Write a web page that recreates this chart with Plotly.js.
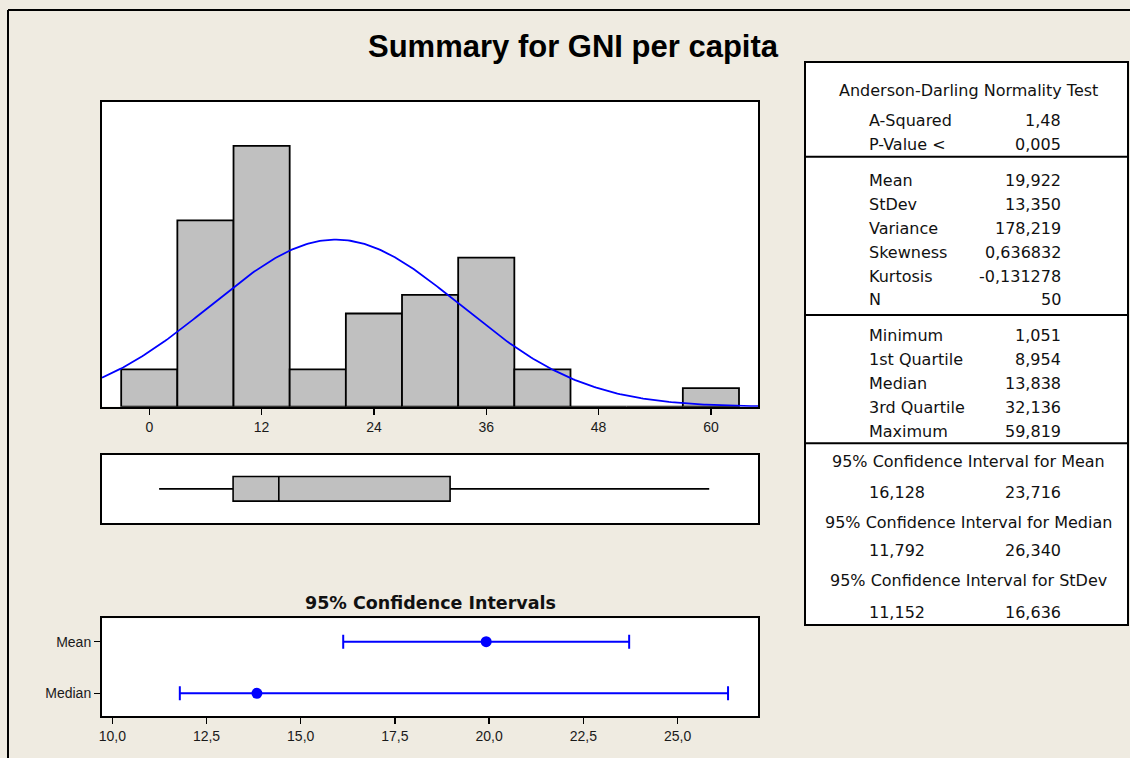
<!DOCTYPE html>
<html>
<head>
<meta charset="utf-8">
<script src="https://cdn.plot.ly/plotly-3.0.1.min.js"></script>
<style>html,body{margin:0;padding:0;background:#EFEBE1;}</style>
</head>
<body>
<div id="chart" style="width:1130px;height:758px;"></div>
<script>
// ---------- data ----------
const binCenters = [0, 6, 12, 18, 24, 30, 36, 42, 48, 54, 60];
const binCounts  = [2, 10, 14, 2, 5, 6, 8, 2, 0, 0, 1];
const binWidth = 6;

const normMean = 19.922;
const normSd = 13.350;
const sampleN = 50;

const boxMin = 1.051, boxQ1 = 8.954, boxMedian = 13.838, boxQ3 = 32.136, boxMax = 59.819;

const ciNames  = ['Mean', 'Median'];
const ciCenter = [19.922, 13.838];
const ciLow    = [16.128, 11.792];
const ciHigh   = [23.716, 26.340];
const ciTicks  = [10, 12.5, 15, 17.5, 20, 22.5, 25];
const ciTickText = ['10,0', '12,5', '15,0', '17,5', '20,0', '22,5', '25,0'];
const histTicks = [0, 12, 24, 36, 48, 60];

const adTitle = 'Anderson-Darling Normality Test';
const adLabels = ['A-Squared', 'P-Value <'];
const adValues = ['1,48', '0,005'];
const momLabels = ['Mean', 'StDev', 'Variance', 'Skewness', 'Kurtosis', 'N'];
const momValues = ['19,922', '13,350', '178,219', '0,636832', '-0,131278', '50'];
const qLabels = ['Minimum', '1st Quartile', 'Median', '3rd Quartile', 'Maximum'];
const qValues = ['1,051', '8,954', '13,838', '32,136', '59,819'];
const ciHeaders = ['95% Confidence Interval for Mean', '95% Confidence Interval for Median', '95% Confidence Interval for StDev'];
const ciLowText = ['16,128', '11,792', '11,152'];
const ciHighText = ['23,716', '26,340', '16,636'];

// ---------- layout helpers ----------
const W = 1130, H = 758;
const px = x => x / W;
const py = y => 1 - y / H;
const histRange = [-5.05, 65.03];

// fitted normal curve from the displayed mean / stdev, scaled to counts
const curveX = [], curveY = [];
for (let i = 0; i <= 280; i++) {
  const x = histRange[0] + (histRange[1] - histRange[0]) * i / 280;
  const z = (x - normMean) / normSd;
  curveX.push(x);
  curveY.push(sampleN * binWidth * Math.exp(-0.5 * z * z) / (normSd * Math.sqrt(2 * Math.PI)));
}

const tickFont = {family: 'Liberation Sans, Arial, sans-serif', size: 14, color: '#1a1a1a'};

const traces = [
  {type: 'bar', x: binCenters, y: binCounts, width: binWidth, xaxis: 'x', yaxis: 'y',
   marker: {color: '#C0C0C0', line: {color: '#000', width: 1.8}}, hoverinfo: 'skip'},
  {type: 'scatter', mode: 'lines', x: curveX, y: curveY, xaxis: 'x', yaxis: 'y',
   line: {color: '#0000FF', width: 1.8}, hoverinfo: 'skip'},
  {type: 'box', orientation: 'h', y: [0], q1: [boxQ1], median: [boxMedian], q3: [boxQ3],
   lowerfence: [boxMin], upperfence: [boxMax], xaxis: 'x2', yaxis: 'y2', width: 0.72,
   whiskerwidth: 0, fillcolor: '#C0C0C0', line: {color: '#000', width: 1.6}, boxpoints: false,
   hoverinfo: 'skip'},
  {type: 'scatter', mode: 'markers', x: ciCenter, y: [1, 0], xaxis: 'x3', yaxis: 'y3',
   marker: {color: '#0000FF', size: 11},
   error_x: {type: 'data', symmetric: false,
     array: ciHigh.map((h, i) => h - ciCenter[i]),
     arrayminus: ciLow.map((l, i) => ciCenter[i] - l),
     color: '#0000FF', thickness: 2, width: 7},
   hoverinfo: 'skip'}
];

const frame = {showline: true, mirror: true, linecolor: '#000', linewidth: 2,
  showgrid: false, zeroline: false, fixedrange: true};

const annotations = [];
const tblFont = {family: 'DejaVu Sans, sans-serif', size: 16, color: '#111'};
const labX = px(866.7), valX = px(1063.3), midX = px(968.5);
function txt(text, x, y, anchor) {
  annotations.push({text: text, x: x, y: py(y), xref: 'paper', yref: 'paper',
    xanchor: anchor, yanchor: 'middle', showarrow: false, font: tblFont});
}
txt(adTitle, midX, 90, 'center');
const adY = [120, 145];
adLabels.forEach((l, i) => { txt(l, labX, adY[i], 'left'); txt(adValues[i], valX, adY[i], 'right'); });
const momY = [180, 204, 228, 252, 276, 299.5];
momLabels.forEach((l, i) => { txt(l, labX, momY[i], 'left'); txt(momValues[i], valX, momY[i], 'right'); });
const qY = [335, 359.3, 383.3, 407.7, 431];
qLabels.forEach((l, i) => { txt(l, labX, qY[i], 'left'); txt(qValues[i], valX, qY[i], 'right'); });
const hY = [461, 522.3, 580], vY = [492.3, 550.7, 612.3];
ciHeaders.forEach((h, i) => {
  txt(h, midX, hY[i], 'center');
  txt(ciLowText[i], labX, vY[i], 'left');
  txt(ciHighText[i], valX, vY[i], 'right');
});
annotations.push({text: '<b>95% Confidence Intervals</b>', x: px(430), y: py(603),
  xref: 'paper', yref: 'paper', xanchor: 'center', yanchor: 'middle', showarrow: false,
  font: {family: 'DejaVu Sans, sans-serif', size: 17.5, color: '#111'}});

const shapes = [
  {type: 'line', xref: 'paper', yref: 'paper', x0: px(8), x1: px(8), y0: py(10), y1: py(760), line: {color: '#000', width: 2}},
  {type: 'line', xref: 'paper', yref: 'paper', x0: px(8), x1: px(1132), y0: py(10), y1: py(10), line: {color: '#000', width: 2}},
  {type: 'rect', xref: 'paper', yref: 'paper', x0: px(805), x1: px(1128), y0: py(625), y1: py(62),
   fillcolor: '#fff', line: {color: '#000', width: 2}, layer: 'below'},
  {type: 'line', xref: 'paper', yref: 'paper', x0: px(805), x1: px(1128), y0: py(156.7), y1: py(156.7), line: {color: '#000', width: 2}},
  {type: 'line', xref: 'paper', yref: 'paper', x0: px(805), x1: px(1128), y0: py(315), y1: py(315), line: {color: '#000', width: 2}},
  {type: 'line', xref: 'paper', yref: 'paper', x0: px(805), x1: px(1128), y0: py(443.3), y1: py(443.3), line: {color: '#000', width: 2}}
];

const layout = {
  width: W, height: H, autosize: false,
  margin: {l: 0, r: 0, t: 0, b: 0},
  paper_bgcolor: '#EFEBE1', plot_bgcolor: '#FFFFFF',
  showlegend: false, hovermode: false, bargap: 0,
  title: {text: '<b>Summary for GNI per capita</b>', x: px(573), xanchor: 'center', y: py(46), yanchor: 'middle',
    font: {family: 'Liberation Sans, Arial, sans-serif', size: 31, color: '#000'}},
  xaxis: Object.assign({}, frame, {domain: [px(102), px(758)], range: histRange, anchor: 'y',
    tickmode: 'array', tickvals: histTicks, ticks: 'outside', ticklen: 6, tickwidth: 1.5, tickcolor: '#000',
    tickfont: tickFont}),
  yaxis: Object.assign({}, frame, {domain: [py(406.7), py(102)], range: [0, 16.35], anchor: 'x',
    showticklabels: false, ticks: ''}),
  xaxis2: Object.assign({}, frame, {domain: [px(102), px(758)], range: histRange, anchor: 'y2',
    showticklabels: false, ticks: ''}),
  yaxis2: Object.assign({}, frame, {domain: [py(523), py(454.7)], range: [-1, 1], anchor: 'x2',
    showticklabels: false, ticks: ''}),
  xaxis3: Object.assign({}, frame, {domain: [px(102), px(758)], range: [9.727, 27.135], anchor: 'y3',
    tickmode: 'array', tickvals: ciTicks, ticktext: ciTickText, ticks: 'outside', ticklen: 6, tickwidth: 1.5,
    tickcolor: '#000', tickfont: tickFont}),
  yaxis3: Object.assign({}, frame, {domain: [py(716), py(618.3)], range: [-0.44, 1.453], anchor: 'x3',
    tickmode: 'array', tickvals: [1, 0], ticktext: ciNames, ticks: 'outside', ticklen: 6, tickwidth: 1.5,
    tickcolor: '#000', tickfont: tickFont}),
  shapes: shapes,
  annotations: annotations
};

Plotly.newPlot('chart', traces, layout, {staticPlot: true, displayModeBar: false});
</script>
</body>
</html>
